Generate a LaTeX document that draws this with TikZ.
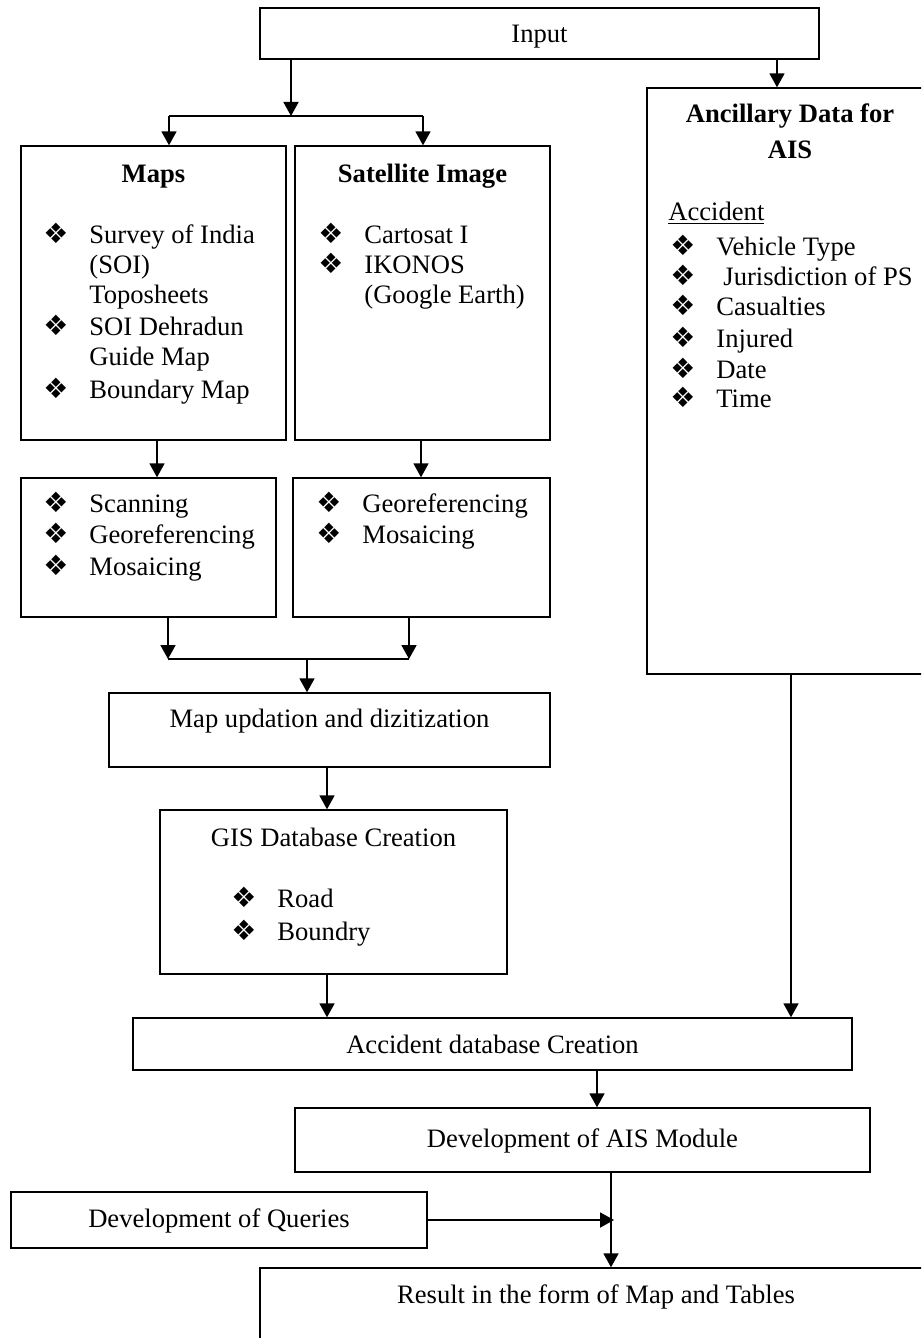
\documentclass[tikz,border=0pt]{standalone}
\usepackage{fontspec}
\setmainfont{Liberation Serif}
\newfontfamily\symfont{DejaVu Sans}
\usetikzlibrary{arrows.meta}

% list bullet and bulleted item
\newcommand\bul{{\symfont\fontsize{14}{14}\selectfont ❖}}
\newcommand\itm[1]{\makebox[23pt][l]{\bul}#1}

\begin{document}
\begin{tikzpicture}[x=0.5pt,y=-0.5pt,
  box/.style={draw, line width=0.7pt, rectangle, inner sep=0pt},
  txt/.style={inner sep=0pt, font=\fontsize{13.3}{15.5}\selectfont},
  lft/.style={txt, anchor=base west},
  ctr/.style={txt, anchor=base},
  arr/.style={line width=0.9pt, -{Triangle[length=7pt,width=7.5pt]}},
  ln/.style={line width=0.9pt},
  thinln/.style={line width=0.6pt}]

\useasboundingbox (0,0) rectangle (921,1338);
\clip (0,0) rectangle (921,1338);

% boxes
\node[box, minimum width=279.5pt, minimum height=25.5pt] (input) at (539.5,33.5) {};
\node[box, minimum width=132.5pt, minimum height=147pt] (maps) at (153.5,293) {};
\node[box, minimum width=127.5pt, minimum height=147pt] (sat) at (422.5,293) {};
\node[box, minimum width=143pt, minimum height=293pt] (anc) at (790,381) {};
\node[box, minimum width=127.5pt, minimum height=69.5pt] (mproc) at (148.5,547.5) {};
\node[box, minimum width=128.5pt, minimum height=69.5pt] (sproc) at (421.5,547.5) {};
\node[box, minimum width=220.5pt, minimum height=37pt] (upd) at (329.5,730) {};
\node[box, minimum width=173.5pt, minimum height=82pt] (gis) at (333.5,892) {};
\node[box, minimum width=359.5pt, minimum height=26pt] (accdb) at (492.5,1044) {};
\node[box, minimum width=287.5pt, minimum height=32pt] (aism) at (582.5,1140) {};
\node[box, minimum width=208pt, minimum height=28pt] (qry) at (219,1220) {};
\node[box, minimum width=336pt, minimum height=46pt] (res) at (596,1314) {};

% texts
\node[ctr] (tinput) at (539.5,43) {Input};

\node[ctr] (tmaps) at (153.5,183) {\textbf{Maps}};
\node[lft] (m1) at (43,243) {\itm{Survey of India}};
\node[lft] (m2) at (89,273) {(SOI)};
\node[lft] (m3) at (89,303) {Toposheets};
\node[lft] (m4) at (43,335) {\itm{SOI Dehradun}};
\node[lft] (m5) at (89,365) {Guide Map};
\node[lft] (m6) at (43,398) {\itm{Boundary Map}};

\node[ctr] (tsat) at (422.5,183) {\textbf{Satellite Image}};
\node[lft] (s1) at (318,243) {\itm{Cartosat I}};
\node[lft] (s2) at (318,273) {\itm{IKONOS}};
\node[lft] (s3) at (364,303) {(Google Earth)};

\node[ctr] (tanc1) at (790,123) {\textbf{Ancillary Data for}};
\node[ctr] (tanc2) at (790,158) {\textbf{AIS}};
\node[lft] (a0) at (668,220) {\underline{Accident}};
\node[lft] (a1) at (670,255) {\itm{Vehicle Type}};
\node[lft] (a2) at (670,285) {\itm{\hspace{3.5pt}Jurisdiction of PS}};
\node[lft] (a3) at (670,315) {\itm{Casualties}};
\node[lft] (a4) at (670,347) {\itm{Injured}};
\node[lft] (a5) at (670,378) {\itm{Date}};
\node[lft] (a6) at (670,407) {\itm{Time}};

\node[lft] (p1) at (43,512) {\itm{Scanning}};
\node[lft] (p2) at (43,543) {\itm{Georeferencing}};
\node[lft] (p3) at (43,575) {\itm{Mosaicing}};

\node[lft] (q1) at (316,512) {\itm{Georeferencing}};
\node[lft] (q2) at (316,543) {\itm{Mosaicing}};

\node[ctr] (tupd) at (329.5,727) {Map updation and dizitization};

\node[ctr] (tgis) at (333.5,846) {GIS Database Creation};
\node[lft] (g1) at (231,907) {\itm{Road}};
\node[lft] (g2) at (231,940) {\itm{Boundry}};

\node[ctr] (taccdb) at (492.5,1053) {Accident database Creation};
\node[ctr] (taism) at (582.5,1147) {Development of AIS Module};
\node[ctr] (tqry) at (219,1227) {Development of Queries};
\node[ctr] (tres) at (596,1303) {Result in the form of Map and Tables};

% connectors
\coordinate (sp) at (291,116);
\coordinate (spL) at (169,116);
\coordinate (spR) at (423,116);
\draw[arr] (input.south -| sp) -- (sp);
\draw[ln] (spL) -- (spR);
\draw[arr] (spL) -- (spL |- maps.north);
\draw[arr] (spR) -- (spR |- sat.north);

\coordinate (ia) at (777,0);
\draw[arr] (input.south -| ia) -- (anc.north -| ia);

\coordinate (ma) at (157,0);
\draw[arr] (maps.south -| ma) -- (mproc.north -| ma);
\coordinate (sa) at (421,0);
\draw[arr] (sat.south -| sa) -- (sproc.north -| sa);

\coordinate (jL) at (168,659);
\coordinate (jR) at (409,659);
\coordinate (jM) at (307,659);
\draw[arr] (mproc.south -| jL) -- (jL);
\draw[arr] (sproc.south -| jR) -- (jR);
\draw[thinln] (jL) -- (jR);
\draw[arr] (jM) -- (upd.north -| jM);

\coordinate (ug) at (327,0);
\draw[arr] (upd.south -| ug) -- (gis.north -| ug);
\draw[arr] (gis.south -| ug) -- (accdb.north -| ug);

\coordinate (aa) at (791,0);
\draw[arr] (anc.south -| aa) -- (accdb.north -| aa);

\coordinate (ad) at (597,0);
\draw[arr] (accdb.south -| ad) -- (aism.north -| ad);

\coordinate (ar) at (611,0);
\draw[arr] (aism.south -| ar) -- (res.north -| ar);

\coordinate (qe) at (614,0);
\draw[arr] (qry.east) -- (qry.east -| qe);
\end{tikzpicture}
\end{document}
